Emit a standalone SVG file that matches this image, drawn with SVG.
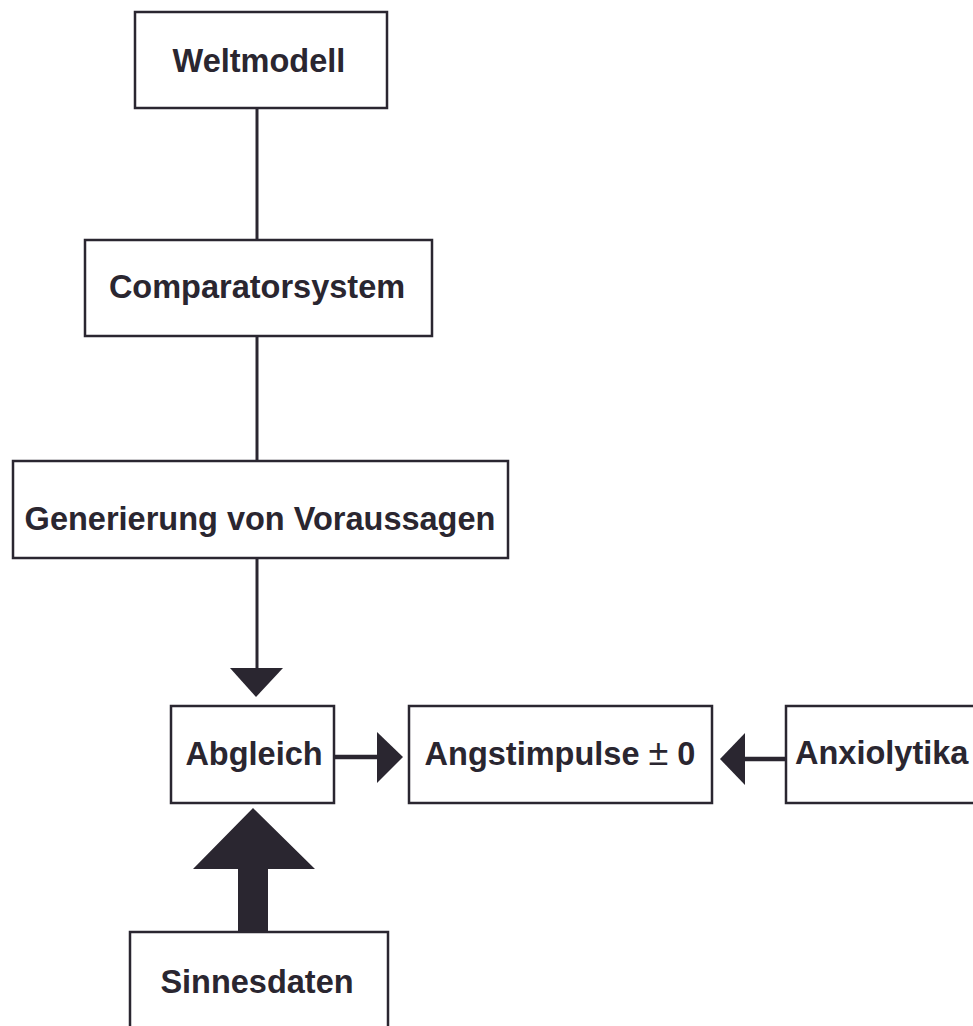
<svg xmlns="http://www.w3.org/2000/svg" width="973" height="1026" viewBox="0 0 973 1026">
<style>
.box{fill:#fff;stroke:#2a2630;stroke-width:2.5}
.lbl{font-family:"Liberation Sans",Arial,sans-serif;font-weight:bold;font-size:32.5px;fill:#2a2630;text-anchor:middle}
.ln{stroke:#2a2630;stroke-width:3;fill:none}
.lnh{stroke:#2a2630;stroke-width:4.5;fill:none}
.ah{fill:#2a2630;stroke:none}
</style>
<rect width="973" height="1026" fill="#fff"/>
<g id="connectors">
<line class="ln" x1="257" y1="108" x2="257" y2="240"/>
<line class="ln" x1="257" y1="336" x2="257" y2="461"/>
<line class="ln" x1="257" y1="558" x2="257" y2="670"/>
<polygon class="ah" points="230,668 283,668 256,697"/>
<line class="lnh" x1="334" y1="757" x2="379" y2="757"/>
<polygon class="ah" points="377,732 377,783 403,757"/>
<line class="lnh" x1="786" y1="759" x2="743" y2="759"/>
<polygon class="ah" points="745,733 745,785 720,759"/>
<polygon class="ah" points="238,932 238,869 193,869 253,808 315,869 268,869 268,932"/>
</g>
<g id="weltmodell"><rect class="box" x="135" y="12" width="252" height="96"/><text class="lbl" x="259" y="72">Weltmodell</text></g>
<g id="comparatorsystem"><rect class="box" x="85" y="240" width="347" height="96"/><text class="lbl" x="257" y="298">Comparatorsystem</text></g>
<g id="generierung"><rect class="box" x="13" y="461" width="495" height="97"/><text class="lbl" x="260" y="530">Generierung von Voraussagen</text></g>
<g id="abgleich"><rect class="box" x="171" y="706" width="163" height="97"/><text class="lbl" x="254" y="765">Abgleich</text></g>
<g id="angstimpulse"><rect class="box" x="409" y="706" width="303" height="97"/><text class="lbl" x="560" y="765">Angstimpulse <tspan font-weight="normal" font-size="36px">±</tspan> 0</text></g>
<g id="anxiolytika"><rect class="box" x="786" y="706" width="200" height="97"/><text class="lbl" x="795" y="764" style="text-anchor:start">Anxiolytika</text></g>
<g id="sinnesdaten"><rect class="box" x="130" y="932" width="258" height="110"/><text class="lbl" x="257" y="993">Sinnesdaten</text></g>
</svg>
